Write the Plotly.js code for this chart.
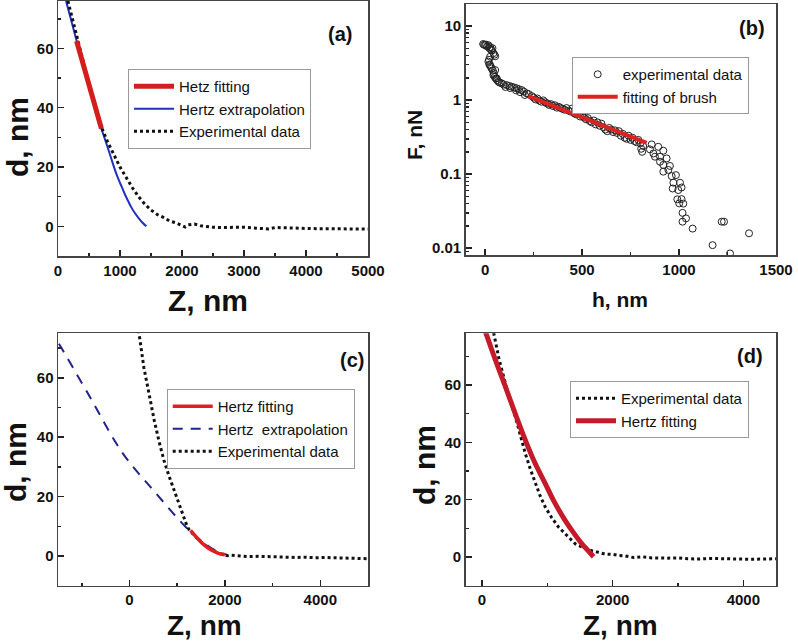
<!doctype html>
<html>
<head>
<meta charset="utf-8">
<script src="https://cdn.plot.ly/plotly-3.0.1.min.js"></script>
<style>
  body { margin: 0; background: #fff; }
  #chart { width: 798px; height: 643px; }
</style>
</head>
<body>
<div id="chart"></div>
<script>
// (a) indentation curve, Z in nm, d in nm
let aExpZ = [160, 300, 450, 600, 700, 800, 900, 1000, 1100, 1200, 1300, 1400, 1500, 1600, 1700, 1800, 1900, 2000, 2050, 2100, 2200, 2300, 2400, 2500, 2600, 2800, 3000, 3200, 3400, 3500, 3600, 3800, 4000, 4200, 4400, 4600, 4800, 5000]
let aExpD = [76, 64, 52, 40.5, 33.5, 28.5, 24, 20, 16.5, 13, 10, 7.5, 5.5, 4, 3, 1.8, 1.2, 0.2, -0.2, 0.5, 0.8, 0.2, -0.1, -0.3, -0.4, -0.4, -0.3, -0.6, -0.9, -0.4, -0.5, -0.7, -0.7, -0.8, -0.8, -0.9, -0.9, -0.9]
let aExtZ = [130, 295, 420, 540, 620, 699, 760, 817, 880, 941, 1010, 1075, 1130, 1183, 1240, 1300, 1360, 1425]
let aExtD = [76, 63, 53, 44, 38.3, 33, 29.2, 25.6, 21.5, 17.7, 14.2, 11, 8.6, 6.4, 4.5, 2.8, 1.3, 0]
let aFitZ = [300, 400, 500, 600, 700]
let aFitD = [62.5, 55, 47.5, 40, 33]

// (b) force vs distance, log scale
let bH = [-10, -5, 0, 5, 10, 17, 22, 26, 30, 34, 38, 43, 48, 52, 26, 20, 17, 22, 26, 30, 34, 40, 52, 45, 43, 50, 55, 60, 62, 69, 75, 86, 95, 105, 112, 125, 130, 137, 150, 160, 163, 175, 180, 189, 200, 205, 215, 225, 241,
  250, 260, 270, 280, 290, 300, 310, 320, 330, 340, 350, 360, 370, 380, 390, 400, 410, 420, 430, 440, 450, 460, 470, 480, 490, 500, 510, 520, 530, 540, 550, 560, 570, 580, 590, 600, 610, 620, 630, 640, 650, 660, 670, 680, 690, 700, 710, 720, 730, 740, 750, 760, 770, 780, 790, 800, 805, 810, 815,
  859, 850, 868, 876, 893, 902, 919, 936, 902, 919, 953, 945, 919, 962, 984, 1005, 971, 967, 996, 1013, 991, 1013, 1001, 1022, 1018, 1036, 1018, 1070, 1220, 1232, 1173, 1263, 1361]
let bF = [5.7, 5.6, 5.5, 5.6, 5.3, 5.5, 5.0, 5.2, 4.8, 4.7, 5.0, 4.3, 4.1, 3.9, 3.85, 3.5, 3.3, 3.0, 2.97, 2.8, 2.67, 2.5, 2.54, 2.3, 2.17, 2.05, 1.95, 1.96, 1.85, 1.77, 1.72, 1.68, 1.62, 1.5, 1.59, 1.55, 1.45, 1.51, 1.48, 1.35, 1.44, 1.4, 1.28, 1.36, 1.3, 1.17, 1.23, 1.2, 1.13,
  1.08, 1.02, 1.05, 0.98, 0.95, 0.99, 0.93, 0.9, 0.86, 0.88, 0.83, 0.85, 0.79, 0.81, 0.78, 0.76, 0.74, 0.78, 0.72, 0.7, 0.77, 0.66, 0.64, 0.68, 0.6, 0.62, 0.58, 0.55, 0.57, 0.52, 0.5, 0.53, 0.47, 0.5, 0.45, 0.48, 0.43, 0.4, 0.38, 0.42, 0.4, 0.37, 0.39, 0.36, 0.38, 0.33, 0.35, 0.31, 0.3, 0.33, 0.29, 0.31, 0.28, 0.27, 0.29, 0.26, 0.22, 0.2, 0.24,
  0.252, 0.216, 0.19, 0.172, 0.234, 0.172, 0.207, 0.163, 0.147, 0.133, 0.129, 0.114, 0.108, 0.094, 0.097, 0.0766, 0.0766, 0.064, 0.061, 0.066, 0.0457, 0.046, 0.0403, 0.04, 0.03, 0.0253, 0.0228, 0.0184, 0.0228, 0.0228, 0.011, 0.0085, 0.0159]
let bFitH = [223, 400, 600, 833]
let bFitF = [1.13, 0.75, 0.46, 0.265]

// (c)
let cExpZ = [190, 300, 419, 520, 629, 720, 820, 910, 1000, 1100, 1189, 1250, 1350, 1450, 1550, 1650, 1750, 1850, 1950, 2050, 2100, 2300, 2500, 2700, 2900, 3100, 3300, 3500, 3700, 3900, 4100, 4300, 4500, 4700, 4900, 5000]
let cExpD = [76, 63.5, 53.8, 45.5, 37.9, 32.3, 27.3, 23.2, 19.3, 14.8, 10.8, 8.8, 7, 5.4, 4, 2.8, 1.8, 1.1, 0.5, 0.1, 0.3, 0, -0.2, -0.1, -0.2, -0.4, -0.3, -0.5, -0.4, -0.6, -0.5, -0.6, -0.8, -0.7, -0.9, -0.9]
let cExtZ = [-1480, -1432, -839, -138, 560, 1189, 1500, 1750, 2054]
let cExtD = [71.5, 70.2, 53.8, 34.5, 21, 9.6, 5.2, 2.3, 0.3]
let cFitZ = [1280, 1450, 1640, 1850, 2000]
let cFitD = [8.6, 5.5, 2.8, 1.0, 0.4]

// (d)
let dExpZ = [178, 260, 356, 430, 509, 585, 662, 740, 815, 890, 968, 1070, 1172, 1300, 1427, 1550, 1682, 1790, 1886, 2012, 2100, 2192, 2318, 2450, 2600, 2828, 3000, 3150, 3338, 3500, 3650, 3847, 4000, 4150, 4300, 4459, 4500]
let dExpD = [78.2, 69, 60.7, 54.5, 49, 42.5, 36.1, 30.6, 25.6, 21.3, 17.4, 13.6, 10.4, 7.3, 4.6, 3.3, 2.2, 1.6, 1.0, 0.9, 0.5, 0.4, -0.2, 0.1, -0.3, -0.4, -0.3, -0.6, -0.7, -0.5, -0.6, -0.7, -0.6, -0.8, -0.7, -0.7, -0.6]
let dFitZ = [30, 200, 356, 500, 662, 800, 968, 1100, 1274, 1400, 1529, 1620, 1707]
let dFitD = [80, 69, 59.5, 50.5, 40.8, 33.3, 25.6, 19.5, 12.7, 8.5, 4.6, 2.3, 0.1]

let font = 'Liberation Sans, Arial, sans-serif'
let dotted = { color: '#111', width: 3, dash: 'dot' }

let traces = [
  { x: aExtZ, y: aExtD, name: 'Hertz extrapolation', mode: 'lines', line: { color: '#2130c0', width: 2, shape: 'spline' }, legend: 'legend', legendrank: 2 },
  { x: aExpZ, y: aExpD, name: 'Experimental data', mode: 'lines', line: dotted, legend: 'legend', legendrank: 3 },
  { x: aFitZ, y: aFitD, name: 'Hetz fitting', mode: 'lines', line: { color: '#d41e1e', width: 5 }, legend: 'legend', legendrank: 1 },

  { x: bH, y: bF, name: 'experimental data', mode: 'markers', xaxis: 'x2', yaxis: 'y2',
    marker: { symbol: 'circle-open', size: 7, color: '#222', line: { width: 1 } }, legend: 'legend2', legendrank: 1 },
  { x: bFitH, y: bFitF, name: 'fitting of brush', mode: 'lines', xaxis: 'x2', yaxis: 'y2',
    line: { color: '#dd2222', width: 4 }, legend: 'legend2', legendrank: 2 },

  { x: cExtZ, y: cExtD, name: 'Hertz\u00a0 extrapolation', mode: 'lines', xaxis: 'x3', yaxis: 'y3',
    line: { color: '#23238e', width: 2, dash: '10px,8px', shape: 'spline' }, legend: 'legend3', legendrank: 2 },
  { x: cExpZ, y: cExpD, name: 'Experimental data', mode: 'lines', xaxis: 'x3', yaxis: 'y3', line: dotted, legend: 'legend3', legendrank: 3 },
  { x: cFitZ, y: cFitD, name: 'Hertz fitting', mode: 'lines', xaxis: 'x3', yaxis: 'y3',
    line: { color: '#e02020', width: 3.5, shape: 'spline' }, legend: 'legend3', legendrank: 1 },

  { x: dExpZ, y: dExpD, name: 'Experimental data', mode: 'lines', xaxis: 'x4', yaxis: 'y4', line: dotted, legend: 'legend4', legendrank: 1 },
  { x: dFitZ, y: dFitD, name: 'Hertz fitting', mode: 'lines', xaxis: 'x4', yaxis: 'y4',
    line: { color: '#c41a2a', width: 5, shape: 'spline' }, legend: 'legend4', legendrank: 2 }
]

function axis (domain, range, dtick, minor, extra) {
  return Object.assign({
    domain, range, dtick,
    showgrid: false, zeroline: false,
    showline: true, mirror: true, linecolor: '#444', linewidth: 1.5,
    ticks: 'inside', ticklen: 6, tickwidth: 1.5, tickcolor: '#222',
    minor: { ticks: 'inside', ticklen: 3, tickcolor: '#222', dtick: minor },
    tickfont: { family: font, size: 15, weight: 'bold', color: '#111' }
  }, extra || {})
}

function legendBox (x, y) {
  return {
    x, y, xanchor: 'left', yanchor: 'top',
    bgcolor: '#fff', bordercolor: '#999', borderwidth: 1,
    font: { family: font, size: 15, color: '#111' },
    itemwidth: 40, tracegroupgap: 0
  }
}

let colLeft = [58 / 798, 368 / 798]
let colRight = [465.7 / 798, 776 / 798]
let rowTop = [1 - 256 / 643, 1 - 1 / 643]
let rowTopB = [1 - 255 / 643, 1 - 4 / 643]
let rowBottom = [1 - 585.7 / 643, 1 - 333.3 / 643]

function label (text, px, py, size, angle, anchor) {
  return {
    text, x: px / 798, y: 1 - py / 643, xref: 'paper', yref: 'paper',
    xanchor: 'center', yanchor: anchor || 'middle', showarrow: false, textangle: angle || 0,
    font: { family: font, size, weight: 'bold', color: '#111' }
  }
}

let layout = {
  width: 798, height: 643,
  margin: { l: 0, r: 0, t: 0, b: 0 },
  paper_bgcolor: '#fff', plot_bgcolor: '#fff',
  showlegend: true,
  xaxis: axis(colLeft, [0, 5000], 1000, 500, { anchor: 'y' }),
  yaxis: axis(rowTop, [-10, 76], 20, 10, { anchor: 'x' }),
  xaxis2: axis(colRight, [-100, 1500], 500, 250, { anchor: 'y2' }),
  yaxis2: axis(rowTopB, [Math.log10(0.0081), Math.log10(19.8)], 1, 'D1', { anchor: 'x2', type: 'log', dtick: 1 }),
  xaxis3: axis(colLeft, [-1500, 5000], 2000, 1000, { anchor: 'y3' }),
  yaxis3: axis(rowBottom, [-10, 75], 20, 10, { anchor: 'x3' }),
  xaxis4: axis(colRight, [-250, 4500], 2000, 1000, { anchor: 'y4' }),
  yaxis4: axis(rowBottom, [-10, 78], 20, 10, { anchor: 'x4' }),
  legend: legendBox(128 / 798, 1 - 69 / 643),
  legend2: legendBox(571.7 / 798, 1 - 57 / 643),
  legend3: legendBox(166.7 / 798, 1 - 389 / 643),
  legend4: legendBox(570 / 798, 1 - 381 / 643),
  annotations: [
    label('(a)', 340, 34, 20),
    label('(b)', 752, 28, 20),
    label('(c)', 352, 360, 20),
    label('(d)', 750, 356, 20),
    label('Z, nm', 208, 300, 30),
    label('d, nm', 17, 137, 30, -90),
    label('h, nm', 620, 299, 21),
    label('F, nN', 414, 135, 21, -90),
    label('Z, nm', 204, 643, 28, 0, 'bottom'),
    label('d, nm', 15, 462, 30, -90),
    label('Z, nm', 620, 643, 28, 0, 'bottom'),
    label('d, nm', 425, 465, 30, -90)
  ]
}

Plotly.newPlot('chart', traces, layout, { displayModeBar: false, staticPlot: true })
</script>
</body>
</html>
